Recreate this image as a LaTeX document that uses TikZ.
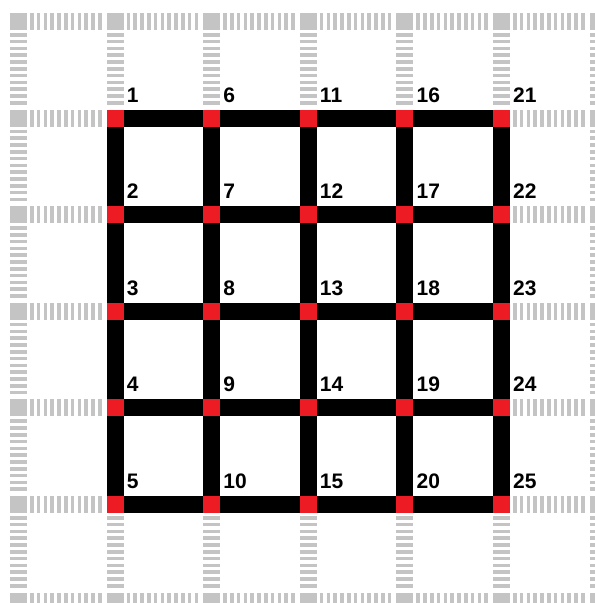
\documentclass[tikz,border=0pt]{standalone}
\usepackage{fontspec}
\setmainfont{Liberation Sans}
\usepackage{tikz}
\usetikzlibrary{positioning}

\definecolor{padred}{RGB}{237,28,36}
\definecolor{ghostgray}{RGB}{196,196,196}

\begin{document}
\begin{tikzpicture}[
  x=96.6pt, y=-96.6pt,
  wire/.style={line width=17pt, black},
  pad/.style={fill=padred, minimum size=17pt, inner sep=0pt, outer sep=0pt},
  ghost/.style={fill=ghostgray},
  ticks/.style={draw=ghostgray, line width=17pt, dash pattern=on 3.6pt off 3.2pt},
  num/.style={font=\fontsize{21}{25}\selectfont\bfseries, anchor=base west, inner sep=0pt}
]
\useasboundingbox (-0.1915,-0.2226) rectangle (5.968,6.020);

% faint background grid
\foreach \i in {0,...,6}
  \foreach \j in {0,...,6}
    \fill[ghost] ([shift={(-8.5pt,-8.5pt)}]\i,\j) rectangle +(17pt,17pt);
\foreach \i in {0,...,5}
  \foreach \j in {0,...,6}
    \draw[ticks] ([xshift=11.5pt]\i,\j) -- ([xshift=83.1pt]\i,\j);
\foreach \i in {0,...,6}
  \foreach \j in {0,...,5}
    \draw[ticks] ([yshift=-11.5pt]\i,\j) -- ([yshift=-83.1pt]\i,\j);

% pad positions
\foreach \i in {1,...,5}
  \foreach \j in {1,...,5} {
    \pgfmathtruncatemacro\k{(\i-1)*5+\j}
    \coordinate (p\k) at (\i,\j);
  }

% wires
\foreach \j [evaluate=\j as \e using int(\j+20)] in {1,...,5}
  \draw[wire] (p\j) -- (p\e);
\foreach \i [evaluate=\i as \a using int(5*\i-4), evaluate=\i as \b using int(5*\i)] in {1,...,5}
  \draw[wire] (p\a) -- (p\b);

% pads and numbers
\foreach \k in {1,...,25} {
  \node[pad] (n\k) at (p\k) {};
  \node[num] (t\k) at ([xshift=11.5pt,yshift=16pt]n\k.center) {\k};
}
\end{tikzpicture}
\end{document}
